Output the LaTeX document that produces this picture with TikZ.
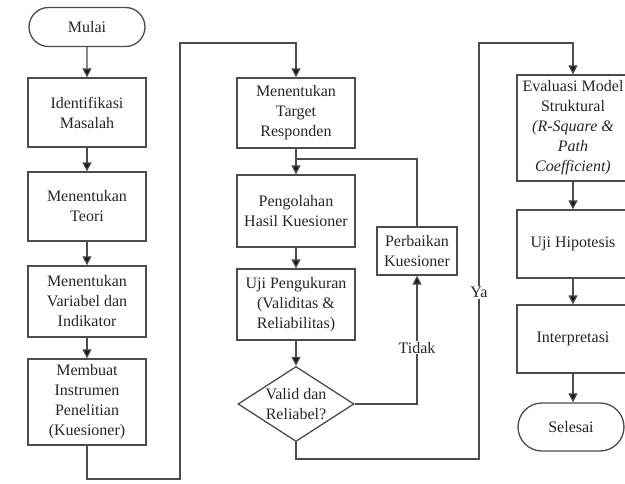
\documentclass[tikz,border=0pt]{standalone}
\usepackage{fontspec}
\setmainfont{Liberation Serif}
\usetikzlibrary{arrows.meta,shapes.geometric,shapes.misc}
\begin{document}
\begin{tikzpicture}[x=1pt, y=-1pt,
    box/.style={draw=black!70, line width=1.3pt, rectangle, align=center,
      inner sep=2pt, minimum width=118pt, text=black!85,
      font=\fontsize{16}{20}\selectfont},
    term/.style={box, rounded rectangle, minimum width=120pt},
    cond/.style={box, diamond, inner sep=0pt, shape aspect=1.55,
      minimum width=116pt, minimum height=75pt},
    link/.style={draw=black!70, line width=1.2pt},
    arr/.style={link, -{Triangle[length=9pt, width=9pt, fill=black!90]}},
    lbl/.style={fill=white, inner sep=1pt, text=black!85,
      font=\fontsize{16}{20}\selectfont}]
    \useasboundingbox (0, 0) rectangle (625, 483);
    \clip (0, 0) rectangle (625, 483);
    \pgfmathsetmacro{\xa}{87}
    \pgfmathsetmacro{\xb}{296}
    \pgfmathsetmacro{\xc}{573}
    \node[term, minimum height=39pt] (mulai) at (\xa, 27) {Mulai};
    \node[box, minimum height=69pt] (idm) at (\xa, 112.5) {Identifikasi\\Masalah};
    \node[box, minimum height=69pt] (teori) at (\xa, 206.5) {Menentukan\\Teori};
    \node[box, minimum height=71pt] (var) at (\xa, 301.5) {Menentukan\\Variabel dan\\Indikator};
    \node[box, minimum height=86pt] (inst) at (\xa, 402) {Membuat\\Instrumen\\Penelitian\\(Kuesioner)};
    \node[box, minimum height=70pt] (target) at (\xb, 113) {Menentukan\\Target\\Responden};
    \node[box, minimum height=72pt] (olah) at (\xb, 211) {Pengolahan\\Hasil Kuesioner};
    \node[box, minimum height=71pt] (ukur) at (\xb, 304.5) {Uji Pengukuran\\(Validitas \&\\Reliabilitas)};
    \node[cond] (valid) at (\xb, 404) {Valid dan\\Reliabel?};
    \node[box, minimum width=80pt, minimum height=48pt] (perb) at (417, 251) {Perbaikan\\Kuesioner};
    \node[box, minimum width=112pt, minimum height=106pt] (eval) at (\xc, 128) {Evaluasi Model\\Struktural\\\textit{(R-Square \&}\\\textit{Path}\\\textit{Coefficient)}};
    \node[box, minimum width=112pt, minimum height=68pt] (hipo) at (\xc, 244) {Uji Hipotesis};
    \node[box, minimum width=112pt, minimum height=68pt] (interp) at (\xc, 339) {Interpretasi};
    \node[term, minimum width=110pt, minimum height=48pt] (selesai) at (571, 427) {Selesai};
    \coordinate (c1) at (180, 479);
    \coordinate (c2) at (\xb, 43);
    \coordinate (j1) at (\xb, 159);
    \coordinate (c3) at (479, 459);
    \coordinate (c4) at (\xc, 43);
    \draw[arr] (mulai) -- (idm);
    \draw[arr] (idm) -- (teori);
    \draw[arr] (teori) -- (var);
    \draw[arr] (var) -- (inst);
    \draw[arr] (inst.south) |- (c1) |- (c2) -- (target.north);
    \draw[arr] (target) -- (olah);
    \draw[link] (perb.north) |- (j1);
    \draw[arr] (olah) -- (ukur);
    \draw[arr] (ukur) -- (valid);
    \draw[arr] (valid.east) -| node[lbl, pos=0.72] (tidak) {Tidak} (perb.south);
    \draw[arr] (valid.south) |- (c3) |- node[lbl, pos=0.2] (ya) {Ya} (c4) -- (eval.north);
    \draw[arr] (eval) -- (hipo);
    \draw[arr] (hipo) -- (interp);
    \draw[arr] (interp.south) -- (interp.south |- selesai.north);
  \end{tikzpicture}
\end{document}
